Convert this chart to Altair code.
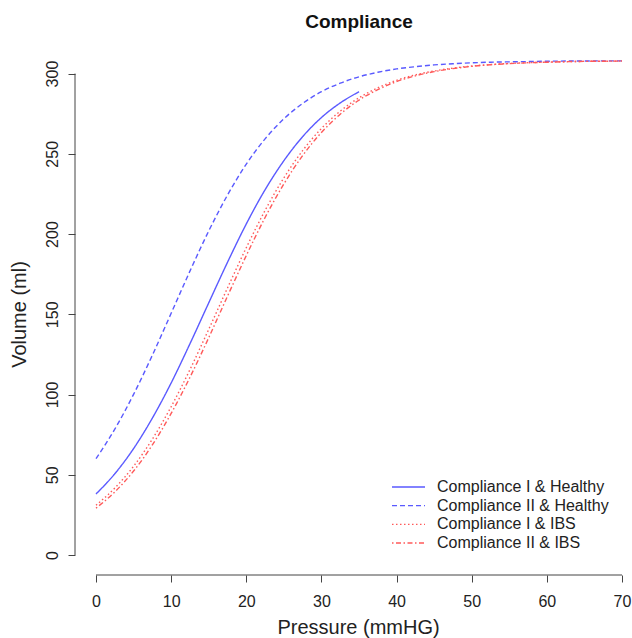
import altair as alt
import pandas as pd

# ---------------- data ----------------
chart_title = "Compliance"
series_names = [
    "Compliance I & Healthy",
    "Compliance II & Healthy",
    "Compliance I & IBS",
    "Compliance II & IBS",
]

pressure = [0, 2.5, 5, 7.5, 10, 12.5, 15, 17.5, 20, 22.5, 25, 27.5, 30, 32.5,
            35, 37.5, 40, 42.5, 45, 47.5, 50, 52.5, 55, 57.5, 60, 62.5, 65,
            67.5, 70]
pressure_c1_healthy = [0, 2.5, 5, 7.5, 10, 12.5, 15, 17.5, 20, 22.5, 25, 27.5,
                       30, 32.5, 35]

vol_c1_healthy = [38.0, 50.6, 66.3, 85.3, 107.2, 131.6, 157.1, 182.4, 206.3,
                  227.6, 245.7, 260.7, 272.6, 281.7, 288.7]
vol_c2_healthy = [60.0, 78.4, 100.1, 124.5, 150.6, 176.9, 201.9, 224.3, 243.6,
                  259.3, 271.8, 281.4, 288.7, 294.0, 298.0, 300.8, 302.9, 304.3,
                  305.4, 306.1, 306.7, 307.1, 307.3, 307.5, 307.7, 307.8, 307.85,
                  307.9, 307.9]
vol_c1_ibs = [31.0, 41.7, 55.3, 72.2, 92.4, 115.5, 140.6, 166.4, 191.5, 214.7,
              235.0, 252.0, 265.8, 276.6, 284.9, 291.1, 295.8, 299.2, 301.6,
              303.4, 304.7, 305.6, 306.3, 306.8, 307.1, 307.4, 307.6, 307.7,
              307.8]
vol_c2_ibs = [29.2, 39.3, 52.3, 68.6, 88.2, 110.7, 135.4, 161.3, 186.6, 210.3,
              231.2, 248.9, 263.3, 274.7, 283.5, 290.0, 295.0, 298.6, 301.2,
              303.1, 304.5, 305.5, 306.2, 306.7, 307.1, 307.4, 307.6, 307.7,
              307.8]

x_ticks = [0, 10, 20, 30, 40, 50, 60, 70]
y_ticks = [0, 50, 100, 150, 200, 250, 300]

# ---------------- build tables ----------------
rows = []
for p, v in zip(pressure_c1_healthy, vol_c1_healthy):
    rows.append({"pressure": p, "volume": v, "series": series_names[0]})
for p, v in zip(pressure, vol_c2_healthy):
    rows.append({"pressure": p, "volume": v, "series": series_names[1]})
for p, v in zip(pressure, vol_c1_ibs):
    rows.append({"pressure": p, "volume": v, "series": series_names[2]})
for p, v in zip(pressure, vol_c2_ibs):
    rows.append({"pressure": p, "volume": v, "series": series_names[3]})
df = pd.DataFrame(rows)

legend_df = pd.DataFrame({"series": series_names,
                          "row": list(range(len(series_names)))})
xaxis_df = pd.DataFrame({"pressure": [x_ticks[0]], "x1": [x_ticks[-1]]})
yaxis_df = pd.DataFrame({"volume": [y_ticks[0]], "y1": [y_ticks[-1]]})
title_df = pd.DataFrame({"t": [chart_title]})

# ---------------- styles ----------------
FONT = "Liberation Sans"
W, H = 557, 534
BLUE = "#5a5aff"
RED = "#ff5a5a"
AXIS_COLOR = "#444444"
TEXT_COLOR = "#222222"

x_scale = alt.Scale(domain=[-2.795, 71.33], nice=False, zero=False)
y_scale = alt.Scale(domain=[-12.47, 320.3], nice=False, zero=False)
color_scale = alt.Scale(domain=series_names, range=[BLUE, BLUE, RED, RED])
dash_scale = alt.Scale(domain=series_names,
                       range=[[1, 0], [5, 3], [1.5, 2.5], [1.5, 2.5, 5, 2.5]])

x_axis = alt.Axis(
    values=x_ticks, title="Pressure (mmHG)", grid=False, domain=False,
    tickSize=7, tickColor=AXIS_COLOR, tickWidth=1,
    labelFont=FONT, labelFontSize=16, labelColor=TEXT_COLOR, labelPadding=11,
    labelFlush=False, labelOverlap=False,
    titleFont=FONT, titleFontSize=20, titleFontWeight="normal",
    titleColor=TEXT_COLOR, titleX=283, titleY=58, titleBaseline="alphabetic",
    titleAlign="center",
)
y_axis = alt.Axis(
    values=y_ticks, title="Volume (ml)", grid=False, domain=False,
    tickSize=7, tickColor=AXIS_COLOR, tickWidth=1,
    labelFont=FONT, labelFontSize=16, labelColor=TEXT_COLOR, labelPadding=11,
    labelAngle=270, labelAlign="center", labelBaseline="alphabetic",
    labelFlush=False, labelOverlap=False,
    titleFont=FONT, titleFontSize=20, titleFontWeight="normal",
    titleColor=TEXT_COLOR, titleAngle=270, titleX=-50, titleY=273,
    titleBaseline="alphabetic", titleAlign="center",
)

lines = alt.Chart(df).mark_line(strokeWidth=1.4, interpolate="monotone").encode(
    x=alt.X("pressure:Q", scale=x_scale, axis=x_axis),
    y=alt.Y("volume:Q", scale=y_scale, axis=y_axis),
    color=alt.Color("series:N", scale=color_scale, legend=None),
    strokeDash=alt.StrokeDash("series:N", scale=dash_scale, legend=None),
    order="pressure:Q",
)

x_line = alt.Chart(xaxis_df).mark_rule(color=AXIS_COLOR, strokeWidth=1).encode(
    x=alt.X("pressure:Q", scale=x_scale, axis=x_axis),
    x2="x1:Q",
    y=alt.value(H),
)
y_line = alt.Chart(yaxis_df).mark_rule(color=AXIS_COLOR, strokeWidth=1).encode(
    y=alt.Y("volume:Q", scale=y_scale, axis=y_axis),
    y2="y1:Q",
    x=alt.value(0),
)

row_scale = alt.Scale(domain=[0, 3], range=[446, 502])
leg_lines = alt.Chart(legend_df).mark_rule(strokeWidth=1.4).encode(
    x=alt.value(317), x2=alt.value(350),
    y=alt.Y("row:Q", scale=row_scale, axis=None),
    color=alt.Color("series:N", scale=color_scale, legend=None),
    strokeDash=alt.StrokeDash("series:N", scale=dash_scale, legend=None),
)
leg_text = alt.Chart(legend_df).mark_text(
    align="left", baseline="middle", font=FONT, fontSize=16, color=TEXT_COLOR
).encode(
    x=alt.value(362),
    y=alt.Y("row:Q", scale=row_scale, axis=None),
    text="series:N",
)

title_mark = alt.Chart(title_df).mark_text(
    align="center", baseline="alphabetic", font=FONT, fontSize=19,
    fontWeight="bold", color="#111111",
).encode(
    x=alt.value(284), y=alt.value(-13), text="t:N",
)

main = alt.layer(lines, x_line, y_line, title_mark)
legend = alt.layer(leg_lines, leg_text)

chart = alt.layer(main, legend).resolve_scale(
    y="independent"
).properties(
    width=W, height=H,
    padding={"left": 75, "top": 41, "right": 0, "bottom": 63},
    autosize=alt.AutoSizeParams(type="none"),
    background="white",
).configure_view(stroke=None)

chart.save("out.html", embed_options={"renderer": "svg", "actions": False})
